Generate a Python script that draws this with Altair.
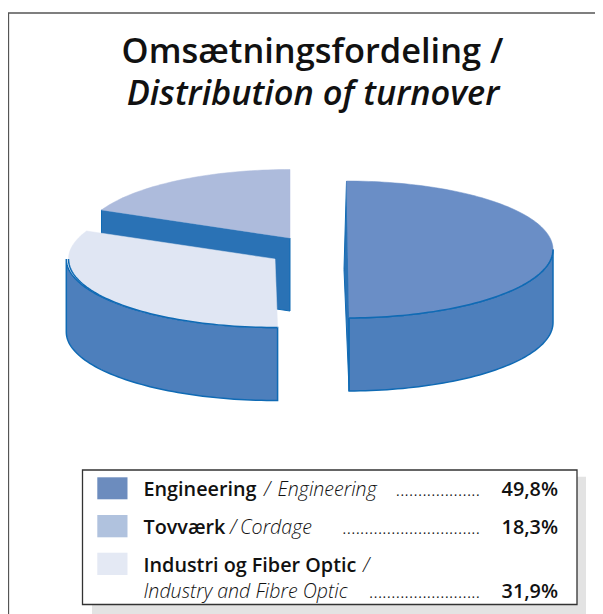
import math
import altair as alt
import pandas as pd

# ---- data -----------------------------------------------------------------
shares = [18.3, 31.9, 49.8]           # Tovværk, Industri, Engineering
start_angle = 90.0

title_da = "Omsætningsfordeling /"
title_en = "Distribution of turnover"
value_labels = ["49,8%", "18,3%", "31,9%"]
bold_labels = ["Engineering", "Tovværk", "Industri og Fiber Optic"]
italic_labels = ["Engineering", "Cordage", "Industry and Fibre Optic"]
dot_leaders = ["." * 19, "." * 31, "." * 25]
swatch_colors = ["#6c8cbe", "#b0c2de", "#e4e9f4"]

# ---- pie geometry ---------------------------------------------------------
A, B, DEPTH = 206.5, 68.5, 73.0
CENTERS = [(290.0, 238.0), (275.0, 259.0), (346.5, 249.5)]
EDGE = "#0f6ab4"
CUT = "#2a72b5"
WALL = "#4d7fbc"
TOPS = ["#adbbdc", "#e0e6f3", "#6a8ec6"]

bounds = [start_angle]
for s in shares:
    bounds.append(bounds[-1] + s * 3.6)


def ell(c, t, dy=0.0):
    r = math.radians(t)
    return (c[0] + A * math.cos(r), c[1] - B * math.sin(r) + dy)


def arc(c, t0, t1, dy=0.0):
    n = max(2, int(abs(t1 - t0) / 1.5))
    return [ell(c, t0 + (t1 - t0) * i / n, dy) for i in range(n + 1)]


X = alt.Scale(domain=[8, 595], nice=False, zero=False)
Y = alt.Scale(domain=[614, 8], nice=False, zero=False)


def poly(points, fill, stroke=None, sw=1.5, close=True):
    pts = list(points) + ([points[0]] if close else [])
    df = pd.DataFrame({"x": [p[0] for p in pts], "y": [p[1] for p in pts], "i": range(len(pts))})
    kw = {"fill": fill} if fill else {}
    kw.update({"stroke": stroke or fill, "strokeWidth": sw if stroke else 0.5})
    return alt.Chart(df).mark_line(**kw).encode(
        x=alt.X("x:Q", scale=X, axis=None),
        y=alt.Y("y:Q", scale=Y, axis=None),
        order=alt.Order("i:Q"),
    )


def txt(s, x, y, size, weight=400, style="normal", align="left", font="Open Sans"):
    return alt.Chart(pd.DataFrame({"a": [0]})).mark_text(
        font=font, fontSize=size, fontWeight=weight, fontStyle=style, align=align,
        baseline="alphabetic", color="#111111",
    ).encode(x=alt.value(x - 8), y=alt.value(y - 8), text=alt.value(s))


def box(x0, y0, x1, y1, fill, stroke=None):
    kw = {"stroke": stroke, "strokeWidth": 1.3} if stroke else {}
    return alt.Chart(pd.DataFrame({"a": [0]})).mark_rect(fill=fill, **kw).encode(
        x=alt.value(x0 - 8), x2=alt.value(x1 - 8), y=alt.value(y0 - 8), y2=alt.value(y1 - 8)
    )


layers = []

# frame
layers.append(box(8.5, 13, 620, 700, "#ffffff", "#555555"))

# Tovværk: cut face then top
ct, ci, ce = CENTERS
p = ell(ct, bounds[1])
layers.append(poly([p, ct, (ct[0], ct[1] + DEPTH), (p[0], p[1] + DEPTH)], CUT, EDGE, 1))
layers.append(poly(arc(ct, bounds[0], bounds[1]) + [ct], TOPS[0]))

# Industri: wall then top (the wall flares slightly outward on its left side)
wall = arc(ci, 180, bounds[2]) + arc(ci, bounds[2], 180, DEPTH)
wall = [(x - 2.2 * max(0.0, (ci[0] - x) / A) ** 3, y) for x, y in wall]
layers.append(poly(wall, WALL, EDGE))
layers.append(poly(arc(ci, bounds[1], bounds[2]) + [ci], TOPS[1]))
layers.append(poly(arc(ci, 180, bounds[2]), None, EDGE, close=False))

# Engineering: cut sliver, wall, top
bot = ell(ce, bounds[2])
layers.append(poly([(ce[0], ce[1] - B), (ce[0] - 2.5, ce[1] + 20), (bot[0], bot[1] + DEPTH), bot], CUT, EDGE, 1))
wall = arc(ce, bounds[2], 360) + arc(ce, 360, bounds[2], DEPTH)
layers.append(poly(wall, WALL, EDGE))
layers.append(poly(arc(ce, bounds[2], bounds[3]), TOPS[2]))
layers.append(poly(arc(ce, bounds[2], 360), None, EDGE, close=False))

# title
layers.append(txt(title_da, 312.5, 63, 34.4, 600, "normal", "center"))
layers.append(txt(title_en, 313, 105, 34.4, 600, "italic", "center"))

# legend box
layers.append(box(92, 476.7, 586, 620, "#e3e3e3"))
layers.append(box(82.5, 470, 577, 604.5, "#ffffff", "#333333"))
for (y0, y1), c in zip([(477.3, 499.3), (515, 537.3), (552.7, 575)], swatch_colors):
    layers.append(box(97.3, y0, 127.5, y1, c))

BS, IS = 19.8, 19.6
R1, R2, R3, R4 = 495.7, 534, 572.3, 597.5
layers.append(txt(bold_labels[0], 143.5, R1, BS, 600))
layers.append(txt("/", 264, R1, IS, 300, "italic"))
layers.append(txt(italic_labels[0], 277.5, R1, IS, 300, "italic"))
layers.append(txt(dot_leaders[0], 481, R1, IS, 300, "italic", "right"))
layers.append(txt(value_labels[0], 558, R1, BS, 600, "normal", "right"))

layers.append(txt(bold_labels[1], 143.5, R2, BS, 600))
layers.append(txt("/", 230, R2, IS, 300, "italic"))
layers.append(txt(italic_labels[1], 240, R2, IS, 300, "italic"))
layers.append(txt(dot_leaders[1], 481, R2, IS, 300, "italic", "right"))
layers.append(txt(value_labels[1], 558, R2, BS, 600, "normal", "right"))

layers.append(txt(bold_labels[2], 143.5, R3, BS, 600))
layers.append(txt("/", 363, R3, IS, 300, "italic"))
layers.append(txt(italic_labels[2], 143.5, R4, IS, 300, "italic"))
layers.append(txt(dot_leaders[2], 481, R4, IS, 300, "italic", "right"))
layers.append(txt(value_labels[2], 558, R4, BS, 600, "normal", "right"))

chart = alt.layer(*layers).properties(
    width=587, height=606, padding=0, autosize=alt.AutoSizeParams(type="none"), background="#ffffff"
).configure_view(stroke=None)

chart.save("out.html", embed_options={"renderer": "svg", "actions": False})
